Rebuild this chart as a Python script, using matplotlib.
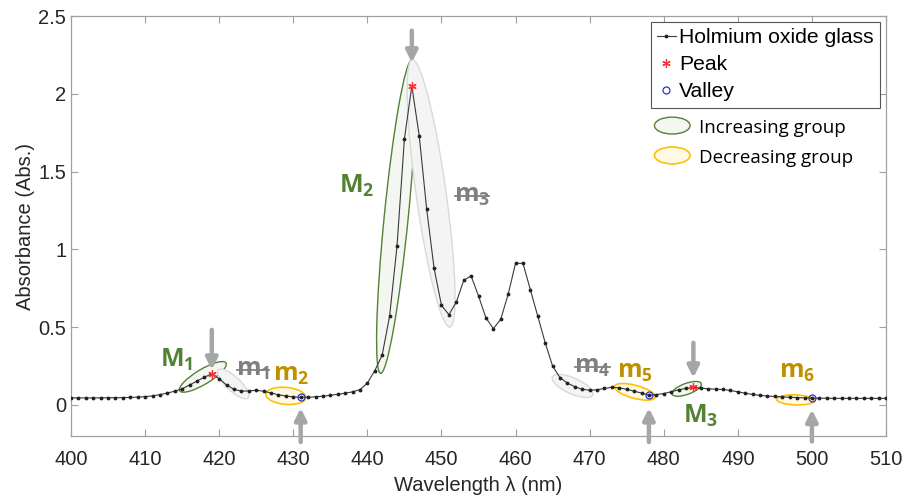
import matplotlib
matplotlib.use("Agg")
import matplotlib.pyplot as plt
import numpy as np
from matplotlib.patches import Ellipse
from matplotlib.lines import Line2D
from matplotlib.transforms import ScaledTranslation
from matplotlib.legend_handler import HandlerPatch

plt.rcParams['font.family'] = ['Liberation Sans', 'DejaVu Sans']
plt.rcParams['mathtext.fontset'] = 'custom'
plt.rcParams['mathtext.rm'] = 'Open Sans'
plt.rcParams['mathtext.bf'] = 'Open Sans:bold'
plt.rcParams['mathtext.default'] = 'bf'

# spectrum, 1 nm steps
wavelength = list(range(400, 511))
absorbance = [
    0.045, 0.045, 0.045, 0.045, 0.045, 0.046, 0.046, 0.047, 0.048, 0.050,   # 400-409
    0.053, 0.058, 0.066, 0.076, 0.088, 0.103, 0.128, 0.153, 0.178, 0.200,   # 410-419
    0.168, 0.128, 0.100, 0.088, 0.090, 0.094, 0.088, 0.076, 0.065, 0.057,   # 420-429
    0.052, 0.048, 0.049, 0.052, 0.056, 0.062, 0.068, 0.075, 0.084, 0.098,   # 430-439
    0.140, 0.220, 0.320, 0.570, 1.020, 1.710, 2.050, 1.730, 1.260, 0.880,   # 440-449
    0.640, 0.580, 0.660, 0.800, 0.830, 0.700, 0.560, 0.490, 0.550, 0.710,   # 450-459
    0.910, 0.910, 0.740, 0.570, 0.400, 0.250, 0.175, 0.140, 0.117, 0.100,   # 460-469
    0.095, 0.097, 0.106, 0.113, 0.110, 0.100, 0.088, 0.076, 0.062, 0.066,   # 470-479
    0.073, 0.084, 0.097, 0.106, 0.112, 0.108, 0.104, 0.101, 0.099, 0.093,   # 480-489
    0.084, 0.075, 0.067, 0.061, 0.057, 0.054, 0.051, 0.049, 0.047, 0.045,   # 490-499
    0.043, 0.043, 0.043, 0.042, 0.042, 0.042, 0.042, 0.042, 0.042, 0.042,   # 500-509
    0.042,                                                                  # 510
]
peaks = [419, 446, 484]
valleys = [431, 478, 500]

GREEN = '#548235'
GOLD = '#BF9000'
YELLOW = '#FFC000'
GREY = '#808080'

# group ellipses: label, centre (nm, abs), size in px, angle, kind
groups = [
    ('M1', 417.8, 0.180, 54, 15, 31, 'inc'),
    ('m1', 421.9, 0.135, 41, 14, -43, 'non'),
    ('m2', 429.0, 0.058, 40, 17, -5, 'dec'),
    ('M2', 443.9, 1.210, 315, 24, 84.3, 'inc'),
    ('m3', 448.6, 1.360, 270, 30, 98, 'non'),
    ('m4', 467.7, 0.122, 44, 16, -24, 'non'),
    ('m5', 476.1, 0.084, 42, 13, -15, 'dec'),
    ('M3', 483.1, 0.103, 31, 11, 20, 'inc'),
    ('m6', 497.8, 0.032, 38, 10, -2, 'dec'),
]
styles = {
    'inc': dict(edgecolor=GREEN, facecolor='#f3f6f1', lw=1.0),
    'dec': dict(edgecolor=YELLOW, facecolor='#fff9e6', lw=1.2),
    'non': dict(edgecolor='#d9d9d9', facecolor='#f4f4f4', lw=1.0),
}
label_colors = {'inc': GREEN, 'dec': GOLD, 'non': GREY}

# label positions (nm, abs)
label_pos = {
    'M1': (414.2, 0.29), 'm1': (424.6, 0.225), 'm2': (429.7, 0.19),
    'M2': (438.6, 1.41), 'm3': (454.1, 1.34), 'm4': (470.4, 0.245),
    'm5': (476.1, 0.212), 'M3': (485.0, -0.07), 'm6': (498.0, 0.212),
}

# arrows: x (nm), tip y (abs), length in px (+ down, - up)
arrows = [(419, 0.225, 40), (446, 2.20, 32), (484, 0.174, 35),
          (431, -0.02, -34), (478, -0.02, -34), (500, -0.03, -32)]

fig = plt.figure(figsize=(9.05, 5.01), dpi=100)
ax = fig.add_axes([71/905, 65/501, 815/905, 420/501])

for name, cx, cy, w, h, ang, kind in groups:
    tr = fig.dpi_scale_trans + ScaledTranslation(cx, cy, ax.transData)
    e = Ellipse((0, 0), w/100, h/100, angle=ang, transform=tr, zorder=1, **styles[kind])
    ax.add_patch(e)

ax.plot(wavelength, absorbance, color='#3a3a3a', lw=0.8, marker='.', ms=3.5,
        mfc='#222222', mec='#222222', zorder=3, label='Holmium oxide glass')
ia = [wavelength.index(p) for p in peaks]
iv = [wavelength.index(v) for v in valleys]
ax.plot(peaks, [absorbance[i] for i in ia], ls='none', marker=(6, 2, 0), ms=6,
        mew=0.9, color='#ff3030', zorder=4, label='Peak')
ax.plot(valleys, [absorbance[i] for i in iv], ls='none', marker='o', ms=5,
        mfc='none', mec='#3030d0', mew=0.9, zorder=4, label='Valley')

for x, y, L in arrows:
    ax.annotate('', xy=(x, y), xytext=(0, L*0.72), textcoords='offset points',
                arrowprops=dict(arrowstyle='-|>', color='#a6a6a6', lw=3.2,
                                mutation_scale=17, shrinkA=0, shrinkB=0),
                annotation_clip=False, zorder=5)

grey_texts = []
for name, cx, cy, w, h, ang, kind in groups:
    lx, ly = label_pos[name]
    t = ax.text(lx, ly, '$%s_%s$' % (name[0], name[1]), color=label_colors[kind],
                fontsize=18, ha='center', va='center', zorder=6)
    if kind == 'non':
        grey_texts.append(t)

ax.set_xlim(400, 510)
ax.set_ylim(-0.2, 2.5)
ax.set_xticks(range(400, 511, 10))
ax.set_yticks([0, 0.5, 1, 1.5, 2, 2.5])
ax.set_yticklabels(['0', '0.5', '1', '1.5', '2', '2.5'])
ax.tick_params(direction='in', length=5, width=0.8, colors='#a0a0a0',
               labelcolor='#262626', labelsize=14.5, top=True, right=True)
ax.tick_params(axis='x', pad=10)
for s in ax.spines.values():
    s.set_color('#a0a0a0')
    s.set_linewidth(0.9)
ax.set_xlabel('Wavelength λ (nm)', fontsize=14.5, color='#262626', labelpad=5)
ax.set_ylabel('Absorbance (Abs.)', fontsize=14.5, color='#262626', labelpad=2)

leg1 = ax.legend(loc='upper right', bbox_to_anchor=(880/905, 1 - 22/501),
                 bbox_transform=fig.transFigure, fontsize=15.2, frameon=True,
                 fancybox=False, edgecolor='#555555', framealpha=1,
                 handlelength=0.9, handletextpad=0.15, borderpad=0.3,
                 labelspacing=0.38, borderaxespad=0)
leg1.get_frame().set_linewidth(0.8)
ax.add_artist(leg1)


class HandlerEllipse(HandlerPatch):
    def create_artists(self, legend, orig_handle, xdescent, ydescent, width,
                       height, fontsize, trans):
        c = (0.5*width - 0.5*xdescent, 0.5*height - 0.5*ydescent)
        p = Ellipse(xy=c, width=width + xdescent, height=height + ydescent)
        self.update_prop(p, orig_handle, legend)
        p.set_transform(trans)
        return [p]


h_inc = Ellipse((0, 0), 1, 1, **styles['inc'])
h_dec = Ellipse((0, 0), 1, 1, **styles['dec'])
leg2 = ax.legend([h_inc, h_dec], ['Increasing group', 'Decreasing group'],
                 handler_map={Ellipse: HandlerEllipse()},
                 loc='upper left', bbox_to_anchor=(646/905, 1 - 110/501),
                 bbox_transform=fig.transFigure, frameon=True, framealpha=1,
                 edgecolor='none', facecolor='white', fancybox=False,
                 prop={'family': 'Open Sans', 'size': 13.5},
                 handlelength=1.9, handleheight=0.9, handletextpad=0.5,
                 borderpad=0.45, labelspacing=0.62, borderaxespad=0)
leg2.set_zorder(10)

# strike-through on the grey labels
fig.canvas.draw()
inv = fig.transFigure.inverted()
for t in grey_texts:
    bb = t.get_window_extent()
    yy = bb.y0 + 0.5*bb.height
    p0 = inv.transform((bb.x0 + 1, yy))
    p1 = inv.transform((bb.x1 - 1, yy))
    fig.add_artist(Line2D([p0[0], p1[0]], [p0[1], p1[1]], color=GREY, lw=1.3,
                          transform=fig.transFigure, zorder=7))

fig.savefig('out.png', dpi=100)
